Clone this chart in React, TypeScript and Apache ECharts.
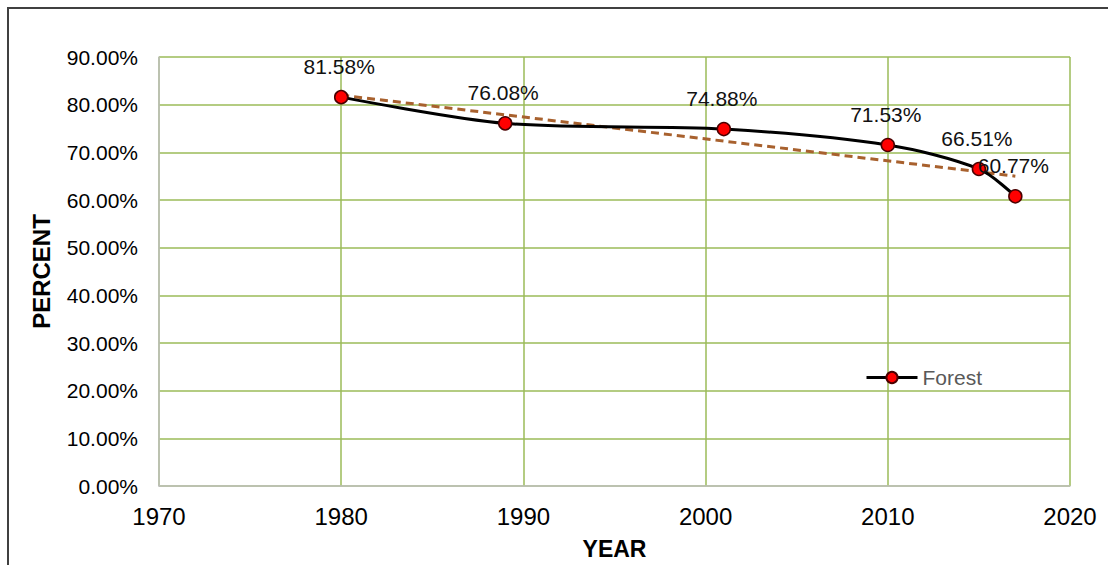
import React, { useEffect, useRef } from "react";
import * as echarts from "echarts";

const years = [1980, 1989, 2001, 2010, 2015, 2017];
const forest = [81.58, 76.08, 74.88, 71.53, 66.51, 60.77];
const trendYears = [1980, 2017];
const trendValues = [82.0, 65.0];
const seriesName = "Forest";
const xTitle = "YEAR";
const yTitle = "PERCENT";

export default function App() {
  const ref = useRef<HTMLDivElement>(null);
  useEffect(() => {
    if (!ref.current) return;
    const chart = echarts.init(ref.current, null, { renderer: "svg" });
    const font = "Liberation Sans, Arial, sans-serif";
    const gridGreen = "#9bbb59";
    chart.setOption({
      animation: false,
      backgroundColor: "#ffffff",
      textStyle: { fontFamily: font },
      grid: { left: 150, right: 38, top: 48, bottom: 74 },
      legend: {
        data: [{ name: seriesName }],
        left: 851,
        top: 353,
        itemWidth: 51,
        itemHeight: 14,
        lineStyle: { width: 3 },
        textStyle: { fontSize: 21, color: "#595959", fontFamily: font },
      },
      xAxis: {
        type: "value",
        min: 1970,
        max: 2020,
        interval: 10,
        name: xTitle,
        nameLocation: "middle",
        nameGap: 51,
        nameTextStyle: { fontSize: 23, fontWeight: "bold", color: "#000", fontFamily: font },
        axisLine: { show: true, lineStyle: { color: "#bfbfbf", width: 1.5 } },
        axisTick: { show: false },
        axisLabel: {
          fontSize: 24,
          color: "#000",
          margin: 18,
          fontFamily: font,
          formatter: (v: number) => String(v),
        },
        splitLine: { show: true, lineStyle: { color: gridGreen, width: 1.5 } },
      },
      yAxis: {
        type: "value",
        min: 0,
        max: 90,
        interval: 10,
        name: yTitle,
        nameLocation: "middle",
        nameGap: 106,
        nameRotate: 90,
        nameTextStyle: { fontSize: 24, fontWeight: "bold", color: "#000", fontFamily: font },
        axisLine: { show: true, lineStyle: { color: "#bfbfbf", width: 1.5 } },
        axisTick: { show: false },
        axisLabel: {
          fontSize: 21,
          color: "#000",
          margin: 21,
          fontFamily: font,
          formatter: (v: number) => v.toFixed(2) + "%",
        },
        splitLine: { show: true, lineStyle: { color: gridGreen, width: 1.5 } },
      },
      series: [
        {
          name: "trend",
          type: "line",
          data: trendYears.map((y, i) => [y, trendValues[i]]),
          showSymbol: false,
          symbol: "none",
          lineStyle: { color: "#a8612e", width: 3, type: [8, 5] },
          z: 1,
          silent: true,
        },
        {
          name: seriesName,
          type: "line",
          data: years.map((y, i) => [y, forest[i]]),
          smooth: 0.3,
          symbol: "circle",
          symbolSize: 13,
          itemStyle: { color: "#ff0000", borderColor: "#4a0000", borderWidth: 1.5 },
          lineStyle: { color: "#000000", width: 3 },
          z: 3,
          label: {
            show: true,
            position: "top",
            distance: 13,
            offset: [-2, 0],
            fontSize: 21,
            color: "#111",
            fontFamily: font,
            formatter: (p: any) => p.value[1].toFixed(2) + "%",
          },
        },
      ],
    });
    return () => chart.dispose();
  }, []);
  return (
    <div
      style={{
        position: "fixed",
        left: 7,
        top: 7,
        width: 1101,
        height: 558,
        borderTop: "2px solid #404040",
        borderLeft: "2px solid #404040",
        boxSizing: "border-box",
        overflow: "hidden",
        background: "#fff",
      }}
    >
      <div ref={ref} style={{ width: 1099, height: 556 }} />
    </div>
  );
}
